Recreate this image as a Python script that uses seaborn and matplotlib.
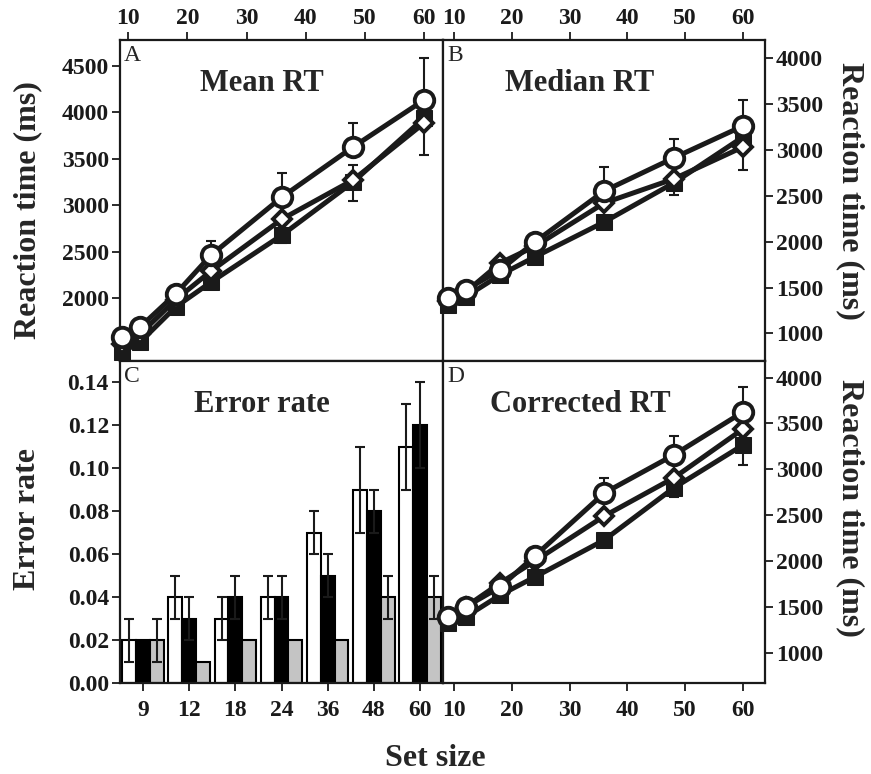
import numpy as np
import pandas as pd
import matplotlib
matplotlib.use('Agg')
import matplotlib.pyplot as plt
import seaborn as sns

sns.set_theme(style='ticks')
plt.rcParams['font.family'] = ['Liberation Serif', 'DejaVu Serif']
plt.rcParams['font.weight'] = 'bold'
plt.rcParams['axes.labelweight'] = 'bold'

# data
set_sizes = [9, 12, 18, 24, 36, 48, 60]
size_labels = ['9', '12', '18', '24', '36', '48', '60']

# A - mean RT
mean_circle = [1578, 1686, 2042, 2462, 3088, 3627, 4133]
mean_diamond = [1500, 1610, 1980, 2290, 2850, 3271, 3885]
mean_square = [1417, 1524, 1902, 2171, 2678, 3249, 3939]
mean_circle_up = [40, 40, 60, 150, 260, 260, 450]
mean_diamond_up = [0, 0, 0, 0, 0, 160, 0]
mean_square_dn = [30, 30, 40, 60, 90, 205, 400]

# B - median RT
med_circle = [1388, 1475, 1693, 1998, 2554, 2914, 3263]
med_diamond = [1350, 1450, 1769, 1950, 2423, 2685, 3034]
med_square = [1312, 1400, 1639, 1835, 2216, 2641, 3143]
med_circle_up = [30, 30, 40, 60, 262, 207, 283]
med_diamond_up = [0, 0, 0, 0, 0, 0, 0]
med_square_dn = [30, 30, 40, 50, 80, 131, 360]

# D - corrected RT
cor_circle = [1390, 1499, 1717, 2055, 2741, 3155, 3624]
cor_diamond = [1380, 1500, 1760, 2000, 2490, 2905, 3439]
cor_square = [1324, 1390, 1629, 1826, 2229, 2796, 3264]
cor_circle_up = [30, 30, 40, 60, 164, 208, 273]
cor_diamond_up = [0, 0, 0, 0, 0, 0, 0]
cor_square_dn = [30, 30, 40, 50, 80, 100, 218]

# C - error rate
err_white = [0.02, 0.04, 0.03, 0.04, 0.07, 0.09, 0.11]
err_black = [0.02, 0.03, 0.04, 0.04, 0.05, 0.08, 0.12]
err_gray = [0.02, 0.01, 0.02, 0.02, 0.02, 0.04, 0.04]
sem_white = [0.01, 0.01, 0.01, 0.01, 0.01, 0.02, 0.02]
sem_black = [0.0, 0.01, 0.01, 0.01, 0.01, 0.01, 0.02]
sem_gray = [0.01, 0.0, 0.0, 0.0, 0.0, 0.01, 0.01]

fig = plt.figure(figsize=(8.71, 7.74), dpi=100)
W, H = 871, 774


def box(x0, y0, x1, y1):
    return [x0 / W, 1 - y1 / H, (x1 - x0) / W, (y1 - y0) / H]


axA = fig.add_axes(box(120, 40, 443, 361))
axB = fig.add_axes(box(443, 40, 765, 361))
axC = fig.add_axes(box(120, 361, 443, 683))
axD = fig.add_axes(box(443, 361, 765, 683))

tick_kw = dict(direction='out', length=6, width=1.3, labelsize=17, colors='k', pad=2)


def draw_rt(ax, circ, diam, sq, circ_up, diam_up, sq_dn):
    x = np.array(set_sizes)
    ax.errorbar(x, sq, yerr=[sq_dn, np.zeros(len(x))], fmt='none', ecolor='k',
                elinewidth=1.5, capsize=3.5, capthick=1.5, zorder=1)
    ax.errorbar(x, diam, yerr=[np.zeros(len(x)), diam_up], fmt='none', ecolor='k',
                elinewidth=1.5, capsize=3.5, capthick=1.5, zorder=1)
    ax.errorbar(x, circ, yerr=[np.zeros(len(x)), circ_up], fmt='none', ecolor='k',
                elinewidth=1.5, capsize=3.5, capthick=1.5, zorder=1)
    sns.lineplot(x=set_sizes, y=sq, ax=ax, color='k', lw=3.6, marker='s',
                 markersize=12, markerfacecolor='k', markeredgecolor='k',
                 clip_on=False, zorder=3)
    sns.lineplot(x=set_sizes, y=diam, ax=ax, color='k', lw=3.6, marker='D',
                 markersize=9, markerfacecolor='white', markeredgecolor='k',
                 markeredgewidth=2.8, clip_on=False, zorder=4)
    sns.lineplot(x=set_sizes, y=circ, ax=ax, color='k', lw=3.6, marker='o',
                 markersize=14, markerfacecolor='white', markeredgecolor='k',
                 markeredgewidth=2.8, clip_on=False, zorder=5)
    ax.set_xlabel('')
    ax.set_ylabel('')


draw_rt(axA, mean_circle, mean_diamond, mean_square, mean_circle_up, mean_diamond_up, mean_square_dn)
draw_rt(axB, med_circle, med_diamond, med_square, med_circle_up, med_diamond_up, med_square_dn)
draw_rt(axD, cor_circle, cor_diamond, cor_square, cor_circle_up, cor_diamond_up, cor_square_dn)

# panel C bars
bars = pd.DataFrame({
    'size': size_labels * 3,
    'rate': err_white + err_black + err_gray,
    'cond': ['w'] * 7 + ['b'] * 7 + ['g'] * 7,
})
sns.barplot(data=bars, x='size', y='rate', hue='cond', order=size_labels,
            hue_order=['w', 'b', 'g'], palette=['white', 'black', '#c4c4c4'],
            edgecolor='black', linewidth=1.5, width=0.9, errorbar=None,
            legend=False, ax=axC, zorder=2)
for cont, vals, sems in zip(axC.containers, [err_white, err_black, err_gray],
                            [sem_white, sem_black, sem_gray]):
    for bar, v, s in zip(cont, vals, sems):
        if s > 0:
            axC.errorbar(bar.get_x() + bar.get_width() / 2, v, yerr=s, fmt='none',
                         ecolor='k', elinewidth=1.5, capsize=3.5, capthick=1.5, zorder=3)
axC.set_xlabel('')
axC.set_ylabel('')

# axes limits and ticks
axA.set_xlim(8.6, 63.2)
axA.set_ylim(1320, 4780)
axB.set_xlim(8.1, 63.8)
axB.set_ylim(700, 4200)
axD.set_xlim(8.1, 63.8)
axD.set_ylim(670, 4180)
axC.set_xlim(-0.5, 6.5)
axC.set_ylim(0, 0.15)

for ax in (axA, axB):
    ax.set_xticks([10, 20, 30, 40, 50, 60])
    ax.xaxis.tick_top()
    ax.tick_params(axis='x', top=True, bottom=False, labeltop=True, labelbottom=False, **tick_kw)
axA.set_yticks([2000, 2500, 3000, 3500, 4000, 4500])
axA.tick_params(axis='y', left=True, right=False, **tick_kw)
for ax in (axB, axD):
    ax.set_yticks([1000, 1500, 2000, 2500, 3000, 3500, 4000])
    ax.yaxis.tick_right()
    ax.tick_params(axis='y', left=False, right=True, labelleft=False, labelright=True, **tick_kw)
axD.set_xticks([10, 20, 30, 40, 50, 60])
axD.tick_params(axis='x', bottom=True, top=False, **tick_kw)
axC.set_yticks([0, 0.02, 0.04, 0.06, 0.08, 0.10, 0.12, 0.14])
axC.set_yticklabels(['0.00', '0.02', '0.04', '0.06', '0.08', '0.10', '0.12', '0.14'])
axC.tick_params(axis='both', **tick_kw)
axC.tick_params(axis='x', pad=6)
axD.tick_params(axis='x', pad=6)

for ax in (axA, axB, axC, axD):
    for sp in ax.spines.values():
        sp.set_visible(True)
        sp.set_linewidth(1.6)
        sp.set_color('k')
    ax.grid(False)
    ax.set_facecolor('white')

# titles and panel letters
titles = ['Mean RT', 'Median RT', 'Error rate', 'Corrected RT']
letters = ['A', 'B', 'C', 'D']
title_x = [0.44, 0.425, 0.44, 0.425]
for ax, t, l, tx in zip((axA, axB, axC, axD), titles, letters, title_x):
    ax.text(tx, 0.865, t, transform=ax.transAxes, ha='center', va='center',
            fontsize=22, fontweight='bold', zorder=10)
    ax.text(0.012, 0.985, l, transform=ax.transAxes, ha='left', va='top',
            fontsize=17, fontweight='normal', zorder=10)

# axis labels
axA.set_ylabel('Reaction time (ms)', fontsize=23, va='center')
axA.yaxis.set_label_coords(-0.285, 0.47)
axC.set_ylabel('Error rate', fontsize=23, va='center')
axC.yaxis.set_label_coords(-0.285, 0.51)
for ax, yc in ((axB, 0.53), (axD, 0.543)):
    ax.yaxis.set_label_position('right')
    ax.set_ylabel('Reaction time (ms)', fontsize=23, rotation=270, va='center')
    ax.yaxis.set_label_coords(1.264, yc)
fig.text(435 / W, 1 - 758 / H, 'Set size', ha='center', va='center', fontsize=23, fontweight='bold')

fig.savefig('out.png', dpi=100, facecolor='white')
